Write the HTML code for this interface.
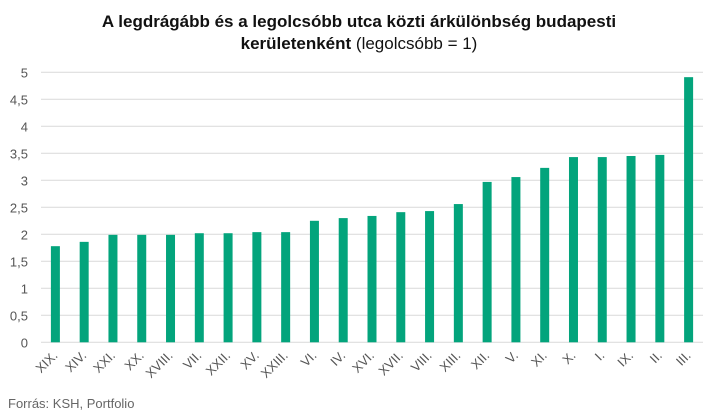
<!DOCTYPE html>
<html><head><meta charset="utf-8"><style>
body{margin:0;background:#fff;font-family:"Liberation Sans",sans-serif;}
#wrap{position:relative;width:718px;height:417px;overflow:hidden;}
.t{position:absolute;left:0;width:718px;text-align:center;font-size:17px;color:#111;}
</style></head><body>
<div id="wrap">
<div class="t" style="top:12px;font-weight:bold">A legdrágább és a legolcsóbb utca közti árkülönbség budapesti</div>
<div class="t" style="top:34px"><b>kerületenként</b> (legolcsóbb = 1)</div>
<svg id="svg" width="718" height="417" style="position:absolute;left:0;top:0"></svg>
<div style="position:absolute;left:8px;top:396px;font-size:13px;color:#666">Forrás: KSH, Portfolio</div>
</div>
<script>
const categories=["XIX.","XIV.","XXI.","XX.","XVIII.","VII.","XXII.","XV.","XXIII.","VI.","IV.","XVI.","XVII.","VIII.","XIII.","XII.","V.","XI.","X.","I.","IX.","II.","III."];
const values=[1.78,1.86,1.99,1.99,1.99,2.02,2.02,2.04,2.04,2.25,2.30,2.34,2.41,2.43,2.56,2.97,3.06,3.23,3.43,3.43,3.45,3.47,4.91];
const ticks=[0,0.5,1,1.5,2,2.5,3,3.5,4,4.5,5];
const tickLabels=["0","0,5","1","1,5","2","2,5","3","3,5","4","4,5","5"];
const NS="http://www.w3.org/2000/svg",svg=document.getElementById('svg');
const x0=41,x1=703,y0=342.3,pxu=54;
const y=v=>y0-v*pxu;
const step=(x1-x0)/categories.length;
const xc=i=>x0+step*(i+0.5);
function mk(t,a){const e=document.createElementNS(NS,t);for(const k in a)e.setAttribute(k,a[k]);svg.appendChild(e);return e;}
ticks.forEach((t,i)=>{
 const l=mk('line',{x1:x0,x2:x1,y1:y(t),y2:y(t),stroke:'#d9d9d9','stroke-width':1});
 
 
 const tx=mk('text',{x:28,y:y(t)+5,'text-anchor':'end','font-size':13,fill:'#555','font-family':'Liberation Sans, sans-serif'});
 tx.textContent=tickLabels[i];
 
 
});
values.forEach((v,i)=>{
 const r=mk('rect',{x:xc(i)-4.5,y:y(v),width:9,height:y0-y(v),fill:'#03a47c'});
 
 
 const tx=mk('text',{x:xc(i)+3,y:y0+14,'text-anchor':'end','font-size':13,fill:'#555','font-family':'Liberation Sans, sans-serif',transform:`rotate(-45 ${xc(i)+3} ${y0+14})`});
 tx.textContent=categories[i];
 
 
});
</script>
</body></html>
